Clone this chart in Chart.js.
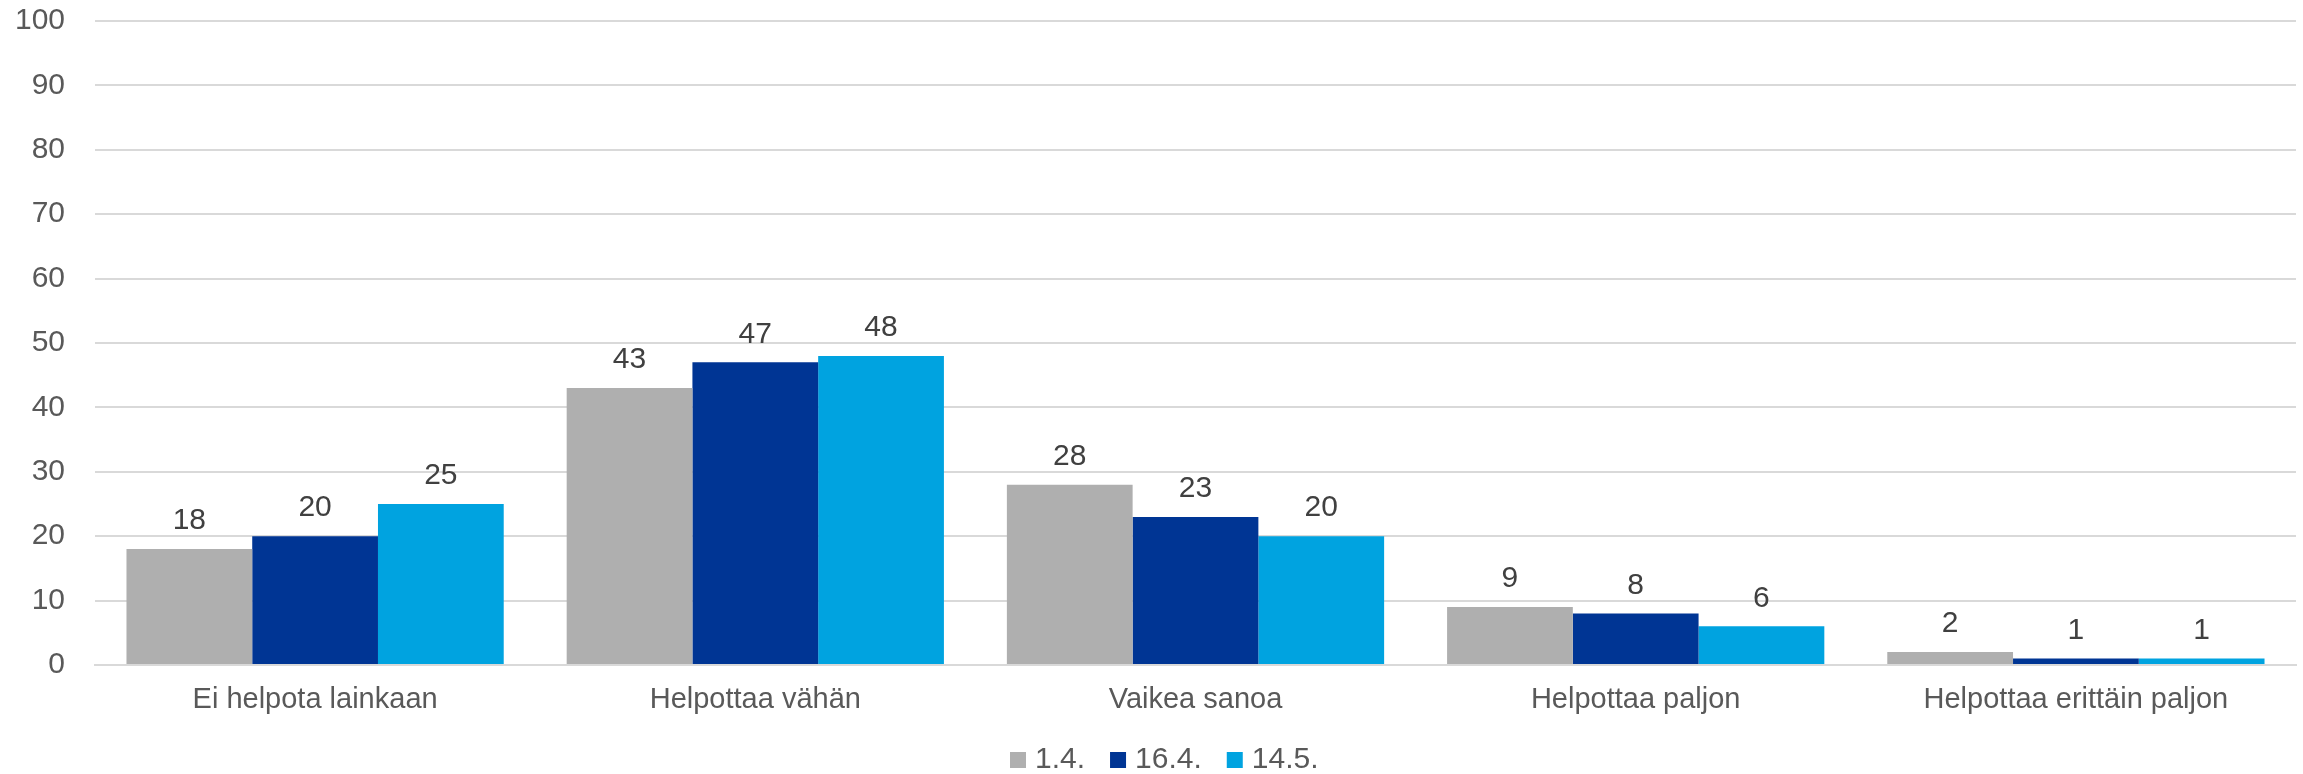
<!DOCTYPE html>
<html>
<head>
<meta charset="utf-8">
<script src="https://cdn.jsdelivr.net/npm/chart.js@4/dist/chart.umd.min.js"></script>
<style>
html,body{margin:0;padding:0;background:#fff;}
#wrap{width:2303px;height:774px;position:relative;}
</style>
</head>
<body>
<div id="wrap"><canvas id="c" width="2303" height="774"></canvas></div>
<script>
const categories = ["Ei helpota lainkaan","Helpottaa vähän","Vaikea sanoa","Helpottaa paljon","Helpottaa erittäin paljon"];
const seriesNames = ["1.4.","16.4.","14.5."];
const s1 = [18,43,28,9,2];
const s2 = [20,47,23,8,1];
const s3 = [25,48,20,6,1];
const colors = ["#AFAFAF","#003594","#00A3E0"];
const yTicks = [0,10,20,30,40,50,60,70,80,90,100];

const FONT = "'Liberation Sans', Arial, sans-serif";

const labelPlugin = {
  id:'valLabels',
  afterDatasetsDraw(chart){
    const ctx = chart.ctx;
    ctx.save();
    ctx.font = "30px " + FONT;
    ctx.fillStyle = "#404040";
    ctx.textAlign = "center";
    ctx.textBaseline = "middle";
    chart.data.datasets.forEach((ds,i)=>{
      const meta = chart.getDatasetMeta(i);
      meta.data.forEach((bar,j)=>{
        ctx.fillText(String(ds.data[j]), bar.x, bar.y - 28);
      });
    });
    ctx.restore();
  }
};

const legendPlugin = {
  id:'customLegend',
  afterDraw(chart){
    const ctx = chart.ctx;
    ctx.save();
    ctx.font = "30px " + FONT;
    ctx.textBaseline = "middle";
    ctx.textAlign = "left";
    let x = 1010;
    const y = 760;
    chart.data.datasets.forEach((ds)=>{
      ctx.fillStyle = ds.backgroundColor;
      ctx.fillRect(x, y-8, 16, 16);
      x += 25;
      ctx.fillStyle = "#595959";
      ctx.fillText(ds.label, x, y);
      x += ctx.measureText(ds.label).width + 25;
    });
    ctx.restore();
  }
};

new Chart(document.getElementById('c'), {
  type:'bar',
  data:{
    labels: categories,
    datasets:[
      {label:seriesNames[0], data:s1, backgroundColor:colors[0]},
      {label:seriesNames[1], data:s2, backgroundColor:colors[1]},
      {label:seriesNames[2], data:s3, backgroundColor:colors[2]}
    ]
  },
  options:{
    responsive:false,
    animation:false,
    devicePixelRatio:1,
    layout:{padding:{top:21,right:7,bottom:0,left:0}},
    datasets:{bar:{categoryPercentage:0.857, barPercentage:1.0}},
    plugins:{legend:{display:false}, tooltip:{enabled:false}},
    scales:{
      x:{
        grid:{display:false, drawTicks:false},
        border:{display:true, color:"#D9D9D9", width:2},
        ticks:{font:{family:FONT,size:29}, color:"#595959", padding:18, maxRotation:0, autoSkip:false},
        afterFit(s){ s.height = 109; s.paddingLeft = 0; s.paddingRight = 0; }
      },
      y:{
        min:0, max:100,
        afterBuildTicks(s){ s.ticks = yTicks.map(v=>({value:v})); },
        grid:{color:"#D9D9D9", lineWidth:2, drawTicks:false},
        border:{display:false},
        ticks:{font:{family:FONT,size:30}, color:"#595959", padding:30},
        afterFit(s){ s.width = 95; s.paddingTop = 0; s.paddingBottom = 0; }
      }
    }
  },
  plugins:[labelPlugin, legendPlugin]
});
</script>
</body>
</html>
